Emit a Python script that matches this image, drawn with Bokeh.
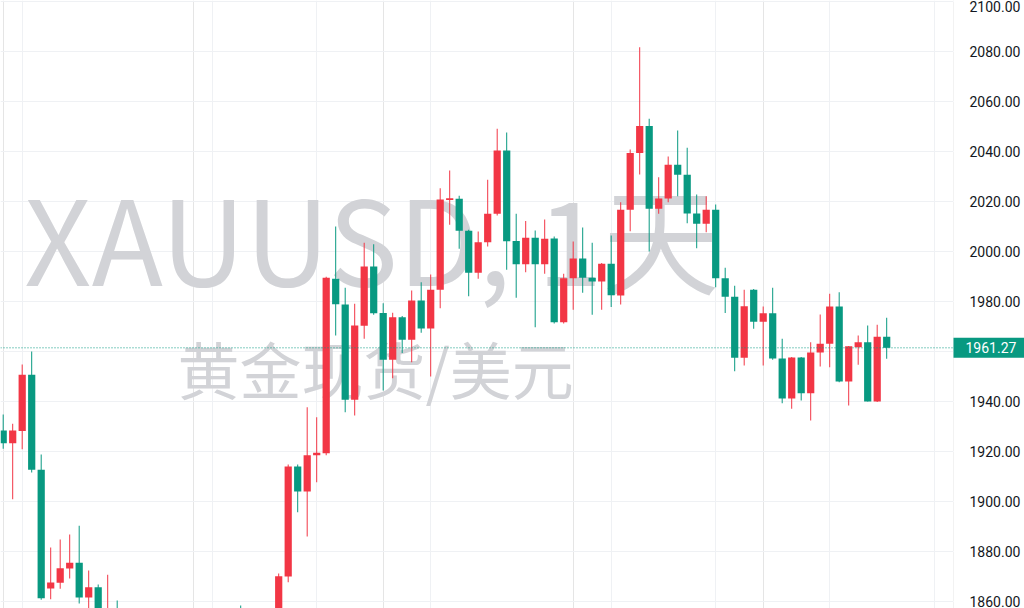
from bokeh.plotting import figure
from bokeh.models import (ColumnDataSource, Span, Label, FixedTicker, SingleIntervalTicker,
                          NumeralTickFormatter, Grid, Range1d, BoxAnnotation)
from bokeh.embed import file_html
from bokeh.resources import INLINE

# ---- data: XAUUSD daily candles (open, high, low, close) ----
opens = [1928.2, 1923.1, 1928.0, 1950.5, 1912.5, 1865.0, 1867.3, 1873.0, 1875.3, 1861.4,
         1865.5, 1853.5, 1855.5, 1836.0, 1836.5, 1842.0, 1841.0, 1834.5, 1825.0, 1822.0,
         1811.0, 1817.0, 1826.5, 1836.5, 1835.5, 1855.0, 1847.0, 1813.5, 1814.5, 1831.5,
         1869.8, 1913.8, 1903.8, 1918.3, 1919.1, 1988.9, 1978.6, 1940.5, 1970.1, 1993.8,
         1975.2, 1956.5, 1973.5, 1964.5, 1980.2, 1969.0, 1984.5, 2020.4, 2020.9, 2008.1,
         1991.3, 2003.5, 2014.9, 2040.2, 2004.0, 1994.7, 2005.3, 1994.7, 2005.0, 1971.5,
         1989.1, 1997.0, 1989.3, 1987.8, 1994.9, 1982.2, 2016.5, 2039.2, 2050.0, 2016.9,
         2021.0, 2034.5, 2030.5, 2015.0, 2010.9, 2016.5, 1989.1, 1981.7, 1957.3, 1984.5,
         1971.7, 1975.1, 1957.0, 1941.0, 1957.4, 1943.1, 1959.4, 1962.9, 1977.8, 1947.8,
         1961.5, 1963.5, 1939.8, 1965.7]
highs = [1934.6, 1930.9, 1954.6, 1959.8, 1918.6, 1881.4, 1884.6, 1886.6, 1890.1, 1872.2,
         1866.6, 1870.5, 1860.2, 1845.0, 1847.0, 1845.5, 1845.0, 1838.0, 1833.0, 1827.0,
         1823.0, 1830.0, 1841.0, 1841.5, 1856.0, 1858.2, 1852.0, 1822.0, 1836.0, 1871.0,
         1914.6, 1914.6, 1937.5, 1933.5, 1989.7, 2009.8, 1985.3, 1978.9, 2003.3, 2002.7,
         1979.1, 1975.3, 1974.0, 1984.2, 1987.5, 1990.6, 2025.1, 2032.2, 2022.1, 2008.5,
         2007.8, 2028.5, 2048.9, 2047.4, 2014.9, 2012.0, 2008.2, 2012.6, 2005.8, 1990.9,
         2003.8, 2009.4, 2003.3, 1995.2, 2006.2, 2019.5, 2040.6, 2081.5, 2052.9, 2029.5,
         2037.8, 2048.2, 2041.3, 2022.6, 2021.9, 2018.6, 1993.3, 1986.1, 1984.5, 1984.8,
         1977.8, 1985.3, 1964.9, 1957.6, 1957.6, 1963.5, 1974.6, 1982.9, 1983.5, 1962.0,
         1966.2, 1970.2, 1970.5, 1973.3]
lows = [1920.9, 1900.7, 1920.7, 1911.4, 1860.5, 1860.7, 1864.9, 1869.0, 1859.0, 1853.0,
        1849.0, 1843.0, 1830.0, 1830.0, 1820.0, 1836.0, 1831.0, 1822.0, 1817.0, 1809.0,
        1805.0, 1813.0, 1826.0, 1830.0, 1834.0, 1845.0, 1810.0, 1809.0, 1810.0, 1829.0,
        1867.5, 1895.5, 1885.8, 1907.5, 1918.3, 1966.2, 1935.5, 1934.2, 1964.9, 1974.5,
        1944.2, 1949.1, 1959.2, 1955.5, 1967.3, 1949.8, 1977.1, 2010.5, 2000.9, 1981.9,
        1988.9, 2001.8, 2014.2, 1992.5, 1981.3, 1991.5, 1969.5, 1990.9, 1971.0, 1971.0,
        1976.5, 1983.3, 1974.5, 1976.5, 1977.6, 1978.6, 2007.9, 2030.6, 1999.8, 2014.9,
        2019.5, 2021.9, 2011.1, 2001.1, 2007.5, 1985.5, 1975.2, 1951.9, 1954.2, 1968.9,
        1954.2, 1956.5, 1939.1, 1936.9, 1940.2, 1932.2, 1953.8, 1953.5, 1947.5, 1938.2,
        1954.5, 1939.8, 1939.6, 1956.9]
closes = [1923.1, 1928.2, 1950.5, 1912.5, 1861.1, 1867.4, 1873.1, 1875.3, 1861.4, 1865.5,
          1853.5, 1855.5, 1836.0, 1836.5, 1842.0, 1841.0, 1834.5, 1825.0, 1822.0, 1811.0,
          1817.0, 1826.5, 1836.5, 1835.5, 1855.0, 1847.0, 1813.5, 1814.5, 1831.5, 1869.9,
          1913.8, 1903.8, 1918.3, 1919.3, 1989.3, 1978.7, 1940.5, 1970.2, 1993.8, 1975.1,
          1956.5, 1973.5, 1964.5, 1980.2, 1969.0, 1984.5, 2020.6, 2021.1, 2008.1, 1991.3,
          2003.5, 2014.9, 2040.2, 2003.9, 1994.7, 2005.3, 1994.7, 2004.9, 1971.5, 1989.1,
          1997.0, 1989.3, 1987.8, 1994.9, 1982.3, 2016.5, 2039.2, 2050.0, 2016.9, 2021.0,
          2034.5, 2030.5, 2015.0, 2010.9, 2016.5, 1989.1, 1981.7, 1957.3, 1977.9, 1971.7,
          1975.1, 1957.0, 1941.0, 1957.4, 1943.1, 1959.4, 1962.9, 1977.8, 1947.8, 1961.9,
          1963.5, 1939.8, 1965.7, 1961.27]
last_price = 1961.27
price_ticks_step = 20
time_grid_bars = [2, 22, 33, 45, 64, 75, 87, 98]   # bars where date grid lines fall
title_text = "XAUUSD, 1天"
subtitle_text = "黄金现货/美元"

# ---- styles ----
UP = "#F23645"      # red = rising (Chinese convention)
DOWN = "#089981"    # green = falling
GRID = "#eff1f4"
WM = "#d2d3d7"
PANE_END = 100.03   # bar position where the price pane ends and the price scale begins
TAG_HALF = 4.0      # half height of the last-price tag, in price units

idx = list(range(len(opens)))
colors = [UP if c >= o else DOWN for o, c in zip(opens, closes)]
src = ColumnDataSource(dict(
    x=idx,
    top=[max(o, c) for o, c in zip(opens, closes)],
    bottom=[min(o, c) for o, c in zip(opens, closes)],
    high=highs, low=lows, color=colors))

p = figure(frame_width=1024, frame_height=608, output_backend="svg", toolbar_location=None,
           x_range=Range1d(-0.284, 107.505), y_range=Range1d(1857.0, 2100.2),
           x_axis_location=None, y_axis_location="right",
           min_border_left=0, min_border_right=0, min_border_top=0, min_border_bottom=0,
           background_fill_color="white", border_fill_color="white")
p.outline_line_color = None

# y axis (price scale), drawn at the pane edge
tick = SingleIntervalTicker(interval=price_ticks_step)
p.yaxis.fixed_location = PANE_END
p.yaxis.ticker = tick
p.yaxis.formatter = NumeralTickFormatter(format="0.00")
p.yaxis.axis_line_color = None
p.yaxis.major_tick_line_color = None
p.yaxis.minor_tick_line_color = None
p.yaxis.major_tick_out = 0
p.yaxis.major_tick_in = 0
p.yaxis.major_label_standoff = 12
p.yaxis.major_label_text_font = "Roboto"
p.yaxis.major_label_text_font_size = "14px"
p.yaxis.major_label_text_color = "#131722"
p.ygrid.ticker = tick
p.ygrid.grid_line_color = GRID
p.grid.grid_line_width = 1

xg = Grid(dimension=0, ticker=FixedTicker(ticks=time_grid_bars), grid_line_color=GRID)
p.add_layout(xg)

# blank price-scale background (hides grid lines there)
p.add_layout(BoxAnnotation(left=PANE_END, fill_color="white", fill_alpha=1.0,
                           line_color=None, level="underlay"))

# watermark
p.add_layout(Label(x=38.8, y=2006.4, text=title_text, text_align="center",
                   text_baseline="middle", text_font_size="117px",
                   text_font="'Noto Sans CJK SC'",
                   text_color=WM, level="underlay"))
p.add_layout(Label(x=39.2, y=1953.2, text=subtitle_text, text_align="center",
                   text_baseline="middle", text_font_size="62px",
                   text_font="'Noto Sans CJK SC'", text_color=WM, level="underlay"))

# candles
p.segment(x0="x", y0="low", x1="x", y1="high", color="color", line_width=1, source=src)
p.vbar(x="x", width=0.76, top="top", bottom="bottom", fill_color="color",
       line_color=None, source=src)

# last price line and tag on the price scale
p.add_layout(Span(location=last_price, dimension="width", line_color=DOWN,
                  line_dash="1 2", line_width=1))
p.add_layout(BoxAnnotation(left=PANE_END, bottom=last_price - TAG_HALF,
                           top=last_price + TAG_HALF, fill_color=DOWN, fill_alpha=1.0,
                           line_color=None))
p.add_layout(Label(x=PANE_END, y=last_price, x_offset=12, text=f"{last_price:.2f}",
                   text_align="left", text_baseline="middle", text_font="Roboto",
                   text_font_size="14px", text_color="white"))

open("out.html", "w").write(file_html(p, INLINE))
